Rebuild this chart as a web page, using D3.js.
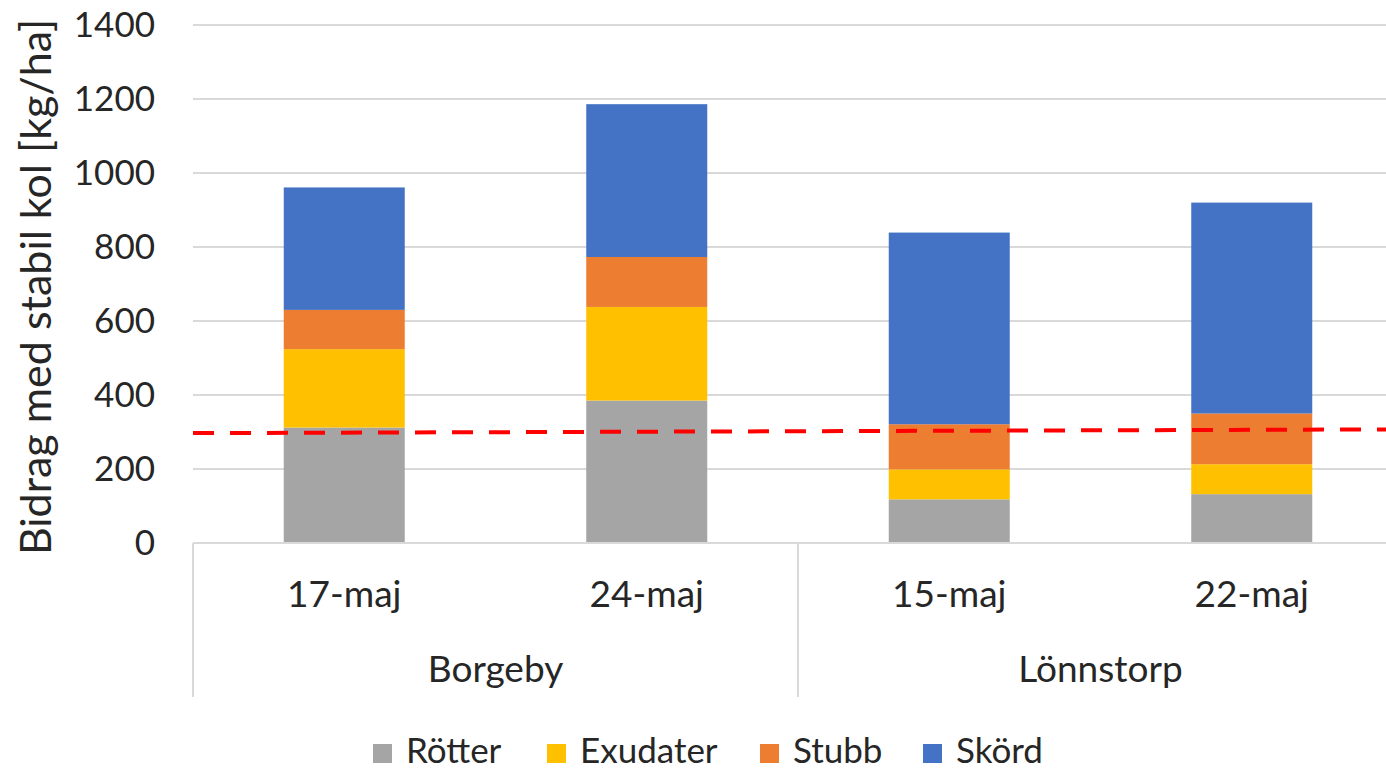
<!DOCTYPE html>
<html>
<head>
<meta charset="utf-8">
<script src="https://cdn.jsdelivr.net/npm/d3@7"></script>
<style>
  body { margin: 0; background: #fff; }
  svg { display: block; }
  text { font-family: Lato, "Open Sans", sans-serif; fill: #262626; }
</style>
</head>
<body>
<svg></svg>
<script>
// data
let dates = ['17-maj', '24-maj', '15-maj', '22-maj'];
let siteNames = ['Borgeby', 'Lönnstorp'];
let seriesNames = ['Rötter', 'Exudater', 'Stubb', 'Skörd'];
let rotter = [312, 385, 118, 132];
let exudater = [212, 253, 81, 81];
let stubb = [106, 135, 122, 137];
let skord = [331, 413, 518, 570];
let yTicks = [0, 200, 400, 600, 800, 1000, 1200, 1400];
let threshold = [297, 307]; // dashed line, left and right end
let colors = ['#a5a5a5', '#ffc000', '#ed7d31', '#4472c4'];

let width = 1386;
let height = 773;
let plotLeft = 193;
let plotRight = 1403; // plot runs past the picture edge
let plotTop = 25;
let plotBottom = 543;

let svg = d3.select('svg')
    .attr('width', width)
    .attr('height', height);

let rows = dates.map((d, i) => {
    return {key: i, 'Rötter': rotter[i], 'Exudater': exudater[i], 'Stubb': stubb[i], 'Skörd': skord[i]};
});

let stacked = d3.stack().keys(seriesNames)(rows);

let xScale = d3.scaleBand()
    .domain(d3.range(dates.length))
    .range([plotLeft, plotRight])
    .paddingInner(0.6)
    .paddingOuter(0.3);

let yScale = d3.scaleLinear()
    .domain([0, 1400])
    .range([plotBottom, plotTop]);

// gridlines
svg.append('g')
    .selectAll('line')
    .data(yTicks)
    .enter()
    .append('line')
    .attr('x1', plotLeft)
    .attr('x2', plotRight)
    .attr('y1', (d) => yScale(d))
    .attr('y2', (d) => yScale(d))
    .style('stroke', '#d9d9d9')
    .style('stroke-width', 2);

// y axis labels
let yAxis = d3.axisLeft(yScale)
    .tickValues(yTicks)
    .tickFormat(d3.format('d'))
    .tickSize(0)
    .tickPadding(38);
svg.append('g')
    .attr('id', 'y-axis')
    .attr('transform', 'translate(' + plotLeft + ', 0)')
    .call(yAxis)
    .call((g) => g.select('.domain').remove())
    .selectAll('text')
    .style('font-size', '35px')
    .style('font-family', 'Lato, sans-serif')
    .style('fill', '#262626');

// bars
svg.append('g')
    .selectAll('g')
    .data(stacked)
    .enter()
    .append('g')
    .style('fill', (d, i) => colors[i])
    .selectAll('rect')
    .data((d) => d)
    .enter()
    .append('rect')
    .attr('x', (d, i) => xScale(i))
    .attr('width', xScale.bandwidth())
    .attr('y', (d) => yScale(d[1]))
    .attr('height', (d) => yScale(d[0]) - yScale(d[1]));

// dashed threshold line
svg.append('line')
    .attr('x1', plotLeft)
    .attr('x2', 1386)
    .attr('y1', yScale(threshold[0]))
    .attr('y2', yScale(threshold[1]))
    .style('stroke', '#ff0000')
    .style('stroke-width', 4)
    .style('stroke-dasharray', '21 16');

// category axis: two levels
let step = xScale.step();
let groupEdges = [plotLeft, plotLeft + 2 * step, plotRight];
svg.append('line')
    .attr('x1', plotLeft).attr('x2', plotRight)
    .attr('y1', plotBottom).attr('y2', plotBottom)
    .style('stroke', '#d9d9d9').style('stroke-width', 2);
svg.append('g')
    .selectAll('line')
    .data(groupEdges)
    .enter()
    .append('line')
    .attr('x1', (d) => d).attr('x2', (d) => d)
    .attr('y1', plotBottom).attr('y2', 697)
    .style('stroke', '#d9d9d9').style('stroke-width', 2);

svg.append('g')
    .selectAll('text')
    .data(dates)
    .enter()
    .append('text')
    .attr('x', (d, i) => xScale(i) + xScale.bandwidth() / 2)
    .attr('y', 607)
    .attr('text-anchor', 'middle')
    .style('font-size', '37px')
    .text((d) => d);

svg.append('g')
    .selectAll('text')
    .data(siteNames)
    .enter()
    .append('text')
    .attr('x', (d, i) => (groupEdges[i] + groupEdges[i + 1]) / 2)
    .attr('y', 682)
    .attr('text-anchor', 'middle')
    .style('font-size', '37px')
    .text((d) => d);

// y title
svg.append('text')
    .attr('transform', 'translate(51, ' + ((plotTop + plotBottom) / 2 + 3) + ') rotate(-90)')
    .attr('text-anchor', 'middle')
    .style('font-size', '43px')
    .text('Bidrag med stabil kol [kg/ha]');

// legend
let legendX = [373, 547, 760, 923];
let legend = svg.append('g')
    .selectAll('g')
    .data(seriesNames)
    .enter()
    .append('g')
    .attr('transform', (d, i) => 'translate(' + legendX[i] + ', 0)');
legend.append('rect')
    .attr('x', 0).attr('y', 744)
    .attr('width', 19).attr('height', 19)
    .style('fill', (d, i) => colors[i]);
legend.append('text')
    .attr('x', 33)
    .attr('y', 763)
    .style('font-size', '35px')
    .text((d) => d);
</script>
</body>
</html>
